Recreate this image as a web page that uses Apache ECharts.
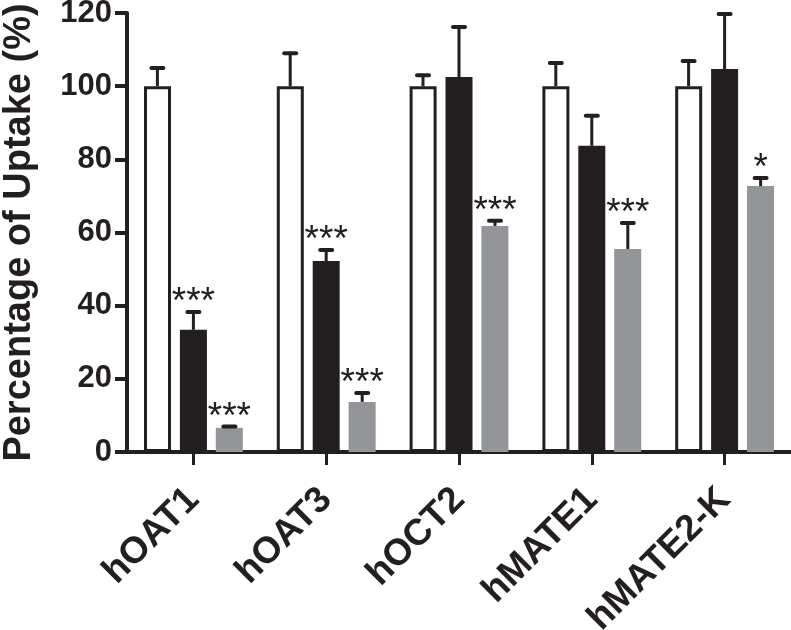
<!DOCTYPE html>
<html>
<head>
<meta charset="utf-8">
<script src="https://cdn.jsdelivr.net/npm/echarts@6/dist/echarts.min.js"></script>
<style>
html,body{margin:0;padding:0;background:#fff;}
#chart{width:791px;height:630px;}
</style>
</head>
<body>
<div id="chart"></div>
<script>
// ---- data ----
const categories = ['hOAT1', 'hOAT3', 'hOCT2', 'hMATE1', 'hMATE2-K'];
const yTicks = [0, 20, 40, 60, 80, 100, 120];
const controlMean = [100, 100, 100, 100, 100];
const controlErr  = [5.0, 9.0, 3.0, 6.3, 6.9];
const blackMean   = [33.4, 52.2, 102.5, 83.7, 104.7];
const blackErr    = [4.9, 3.0, 13.7, 8.2, 15.0];
const grayMean    = [6.6, 13.7, 61.8, 55.5, 72.7];
const grayErr     = [0.4, 2.4, 1.4, 7.1, 2.2];
const blackStars  = ['***', '***', '', '', ''];
const grayStars   = ['***', '***', '***', '***', '*'];

// ---- style ----
const INK = '#231f20';
const GRAY = '#939598';
const BAR_W = 27;
const BAR_STEP = 36;
const FONT = '"Liberation Sans", Arial, Helvetica, sans-serif';

function errSeries(name, means, errs, stars, offset) {
  return {
    name: name + ' SEM',
    type: 'custom',
    z: 5,
    data: categories.map((c, i) => [i, means[i], means[i] + errs[i], stars[i]]),
    encode: { x: 0, y: 2 },
    renderItem: function (params, api) {
      const i = api.value(0);
      const base = api.coord([i, api.value(1)]);
      const top = api.coord([i, api.value(2)]);
      const x = base[0] + offset;
      const star = stars[i];
      const children = [
        { type: 'line', shape: { x1: x, y1: base[1], x2: x, y2: top[1] },
          style: { stroke: INK, lineWidth: 3 } },
        { type: 'line', shape: { x1: x - 6, y1: top[1], x2: x + 6, y2: top[1] },
          style: { stroke: INK, lineWidth: 4, lineCap: 'round' } }
      ];
      if (star) {
        children.push({
          type: 'text',
          style: { x: x, y: top[1] - 9, text: star, fill: INK,
                   font: '37px ' + FONT, align: 'center', verticalAlign: 'middle' }
        });
      }
      return { type: 'group', children: children };
    }
  };
}

const chart = echarts.init(document.getElementById('chart'), null, { renderer: 'canvas' });
chart.setOption({
  backgroundColor: '#fff',
  animation: false,
  grid: { left: 127, right: 0, top: 13, bottom: 178, containLabel: false, outerBoundsMode: 'none' },
  xAxis: {
    type: 'category',
    data: categories,
    axisLine: { lineStyle: { color: INK, width: 4 } },
    axisTick: { show: true, alignWithLabel: true, length: 13, lineStyle: { color: INK, width: 3 } },
    axisLabel: {
      rotate: 45, margin: 42, interval: 0,
      color: INK, fontFamily: FONT, fontWeight: 'bold', fontSize: 37
    }
  },
  yAxis: {
    type: 'value',
    min: yTicks[0], max: yTicks[yTicks.length - 1], interval: 20,
    name: 'Percentage of Uptake (%)',
    nameLocation: 'middle', nameRotate: 90, nameGap: 88,
    nameTextStyle: { color: INK, fontFamily: FONT, fontWeight: 'bold', fontSize: 38 },
    splitLine: { show: false },
    axisLine: { show: true, lineStyle: { color: INK, width: 4 } },
    axisTick: { show: true, length: 12, lineStyle: { color: INK, width: 4 } },
    axisLabel: { margin: 15, color: INK, fontFamily: FONT, fontWeight: 'bold', fontSize: 31 }
  },
  series: [
    { name: 'Control', type: 'bar', data: controlMean, barWidth: BAR_W, barGap: '33%',
      itemStyle: { color: '#ffffff', borderColor: INK, borderWidth: 3 } },
    { name: 'Treatment 1', type: 'bar', data: blackMean, barWidth: BAR_W, barGap: '33%',
      itemStyle: { color: INK } },
    { name: 'Treatment 2', type: 'bar', data: grayMean, barWidth: BAR_W, barGap: '33%',
      itemStyle: { color: GRAY } },
    errSeries('Control', controlMean, controlErr, ['', '', '', '', ''], -BAR_STEP),
    errSeries('Treatment 1', blackMean, blackErr, blackStars, 0),
    errSeries('Treatment 2', grayMean, grayErr, grayStars, BAR_STEP)
  ]
});
</script>
</body>
</html>
